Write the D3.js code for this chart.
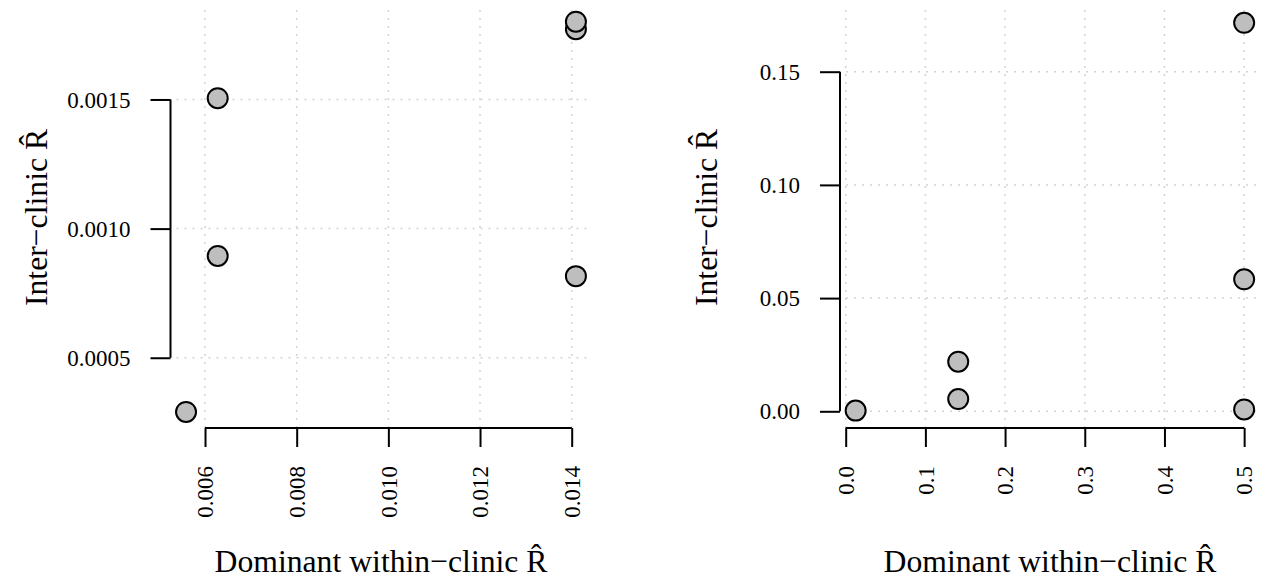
<!DOCTYPE html>
<html>
<head>
<meta charset="utf-8">
<title>Inter-clinic vs within-clinic R</title>
<script src="https://cdn.jsdelivr.net/npm/d3@7"></script>
<style>
    body { margin: 0; background: #fff; }
</style>
</head>
<body>
<script>
var width = 1262,
    height = 580;
var serif = "'Liberation Serif', 'Times New Roman', serif";

// left panel
var leftX = [0.005586, 0.006277, 0.006277, 0.014092, 0.014092, 0.014092];
var leftY = [0.000290, 0.001505, 0.000894, 0.000816, 0.001772, 0.001801];
var leftXTicks = [0.006, 0.008, 0.010, 0.012, 0.014];
var leftXLabels = ["0.006", "0.008", "0.010", "0.012", "0.014"];
var leftYTicks = [0.0005, 0.0010, 0.0015];
var leftYLabels = ["0.0005", "0.0010", "0.0015"];

// right panel
var rightX = [0.0125, 0.1412, 0.1412, 0.5, 0.5, 0.5];
var rightY = [0.0003, 0.0054, 0.0219, 0.0008, 0.0583, 0.1716];
var rightXTicks = [0.0, 0.1, 0.2, 0.3, 0.4, 0.5];
var rightXLabels = ["0.0", "0.1", "0.2", "0.3", "0.4", "0.5"];
var rightYTicks = [0.00, 0.05, 0.10, 0.15];
var rightYLabels = ["0.00", "0.05", "0.10", "0.15"];

var xTitle = "Dominant within\u2212clinic R\u0302";
var yTitle = "Inter\u2212clinic R\u0302";

var svg = d3.select("body")
    .append("svg")
    .attr("width", width)
    .attr("height", height);

function title(tx, ty, angle, str) {
    svg.append("text")
        .attr("transform", "translate(" + tx + "," + ty + ") rotate(" + angle + ")")
        .attr("text-anchor", "middle")
        .style("font-family", serif)
        .style("font-size", "31.7px")
        .style("fill", "#000")
        .text(str);
}

function panel(p) {
    var x = d3.scaleLinear().domain(p.xDomain).range([p.left, p.right]);
    var y = d3.scaleLinear().domain(p.yDomain).range([p.bottom, p.top]);

    var g = svg.append("g");

    // dotted grid
    g.selectAll(".vgrid")
        .data(p.xTicks)
        .enter()
        .append("line")
        .attr("x1", d => x(d)).attr("x2", d => x(d))
        .attr("y1", p.bottom).attr("y2", p.top)
        .attr("stroke", "#d3d3d3")
        .attr("stroke-width", 1.5)
        .attr("stroke-dasharray", "2,6");
    g.selectAll(".hgrid")
        .data(p.yTicks)
        .enter()
        .append("line")
        .attr("x1", p.left + 6).attr("x2", p.right)
        .attr("y1", d => y(d)).attr("y2", d => y(d))
        .attr("stroke", "#d3d3d3")
        .attr("stroke-width", 1.5)
        .attr("stroke-dasharray", "2,6");

    // x axis, line only from first to last tick
    var xa = g.append("g")
        .attr("transform", "translate(0," + p.bottom + ")")
        .call(d3.axisBottom(x)
            .tickValues(p.xTicks)
            .tickFormat((d, i) => p.xLabels[i])
            .tickSize(19)
            .tickSizeOuter(0));
    xa.select(".domain").remove();
    xa.append("line")
        .attr("x1", x(p.xTicks[0]))
        .attr("x2", x(p.xTicks[p.xTicks.length - 1]))
        .attr("stroke", "#000")
        .attr("stroke-width", 2);
    xa.selectAll(".tick line").attr("stroke", "#000").attr("stroke-width", 2);
    xa.selectAll(".tick text")
        .attr("transform", "rotate(-90)")
        .attr("text-anchor", "end")
        .attr("x", -38)
        .attr("y", 0)
        .attr("dy", "0.34em")
        .style("font-family", serif)
        .style("font-size", "23px")
        .style("fill", "#000");

    // y axis
    var ya = g.append("g")
        .attr("transform", "translate(" + p.left + ",0)")
        .call(d3.axisLeft(y)
            .tickValues(p.yTicks)
            .tickFormat((d, i) => p.yLabels[i])
            .tickSize(20)
            .tickSizeOuter(0));
    ya.select(".domain").remove();
    ya.append("line")
        .attr("y1", y(p.yTicks[0]))
        .attr("y2", y(p.yTicks[p.yTicks.length - 1]))
        .attr("stroke", "#000")
        .attr("stroke-width", 2);
    ya.selectAll(".tick line").attr("stroke", "#000").attr("stroke-width", 2);
    ya.selectAll(".tick text")
        .attr("x", -40)
        .attr("dy", "0.33em")
        .style("font-family", serif)
        .style("font-size", "23px")
        .style("fill", "#000");

    // points
    g.selectAll("circle")
        .data(p.xs.map((v, i) => [v, p.ys[i]]))
        .enter()
        .append("circle")
        .attr("cx", d => x(d[0]))
        .attr("cy", d => y(d[1]))
        .attr("r", 10)
        .attr("fill", "#bebebe")
        .attr("stroke", "#000")
        .attr("stroke-width", 2);

    title((p.left + p.right) / 2, 572, 0, xTitle);
    title(p.left - 123.5, (p.top + p.bottom) / 2, -90, yTitle);
}

panel({
    left: 170.5, right: 591.5, top: 7, bottom: 428,
    xDomain: [0.005247, 0.014432], yDomain: [0.000228, 0.001858],
    xs: leftX, ys: leftY,
    xTicks: leftXTicks, xLabels: leftXLabels,
    yTicks: leftYTicks, yLabels: leftYLabels
});

panel({
    left: 840, right: 1260, top: 7, bottom: 428,
    xDomain: [-0.00715, 0.5199], yDomain: [-0.00738, 0.17858],
    xs: rightX, ys: rightY,
    xTicks: rightXTicks, xLabels: rightXLabels,
    yTicks: rightYTicks, yLabels: rightYLabels
});
</script>
</body>
</html>
